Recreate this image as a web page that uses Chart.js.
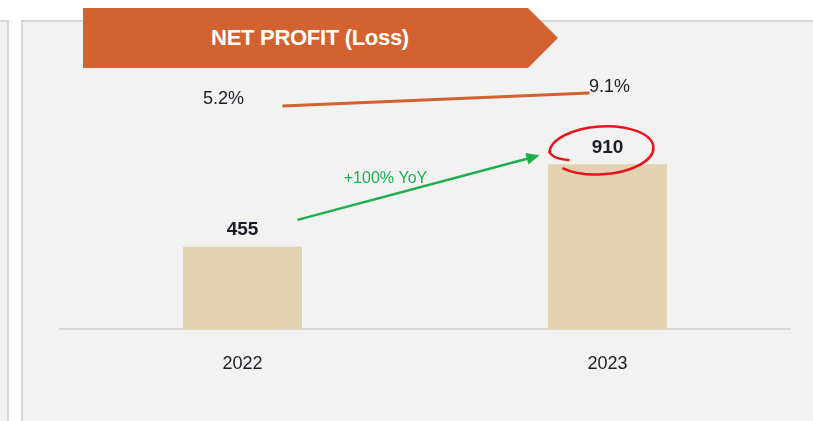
<!DOCTYPE html>
<html>
<head>
<meta charset="utf-8">
<script src="https://cdn.jsdelivr.net/npm/chart.js@4.4.1/dist/chart.umd.min.js"></script>
<style>
  html, body { margin: 0; padding: 0; background: #fff; }
  body { width: 813px; height: 421px; overflow: hidden; position: relative; font-family: "Liberation Sans", Arial, sans-serif; }
  .side { position: absolute; left: -12px; top: 20px; width: 17px; height: 500px; background: #f2f2f2; border: 2px solid #d6d6d6; }
  .panel { position: absolute; left: 21px; top: 20px; width: 900px; height: 500px; background: #f2f2f2; border: 2px solid #d6d6d6; }
  .banner { position: absolute; left: 83px; top: 8px; width: 475px; height: 60px; background: #d2622f;
            clip-path: polygon(0 0, 445px 0, 475px 50%, 445px 100%, 0 100%); }
  .banner span { display: block; width: 454px; text-align: center; line-height: 60px; color: #fff; font-weight: bold; font-size: 22px; letter-spacing: -0.3px; }
  #chart { position: absolute; left: 0; top: 0; }
</style>
</head>
<body>
<div class="side"></div>
<div class="panel"></div>
<div class="banner"><span>NET PROFIT (Loss)</span></div>
<canvas id="chart" width="813" height="421"></canvas>
<script>
const years = ['2022', '2023'];
const netProfit = [455, 910];
const margin = [5.2, 9.1];
const growthLabel = '+100% YoY';

const textColor = '#1c1c24';
const orange = '#d2622f';
const green = '#1fae4c';

// labels, margin line, growth arrow and red circle
const annotations = {
    id: 'annotations',
    afterDatasetsDraw(chart) {
        const ctx = chart.ctx;
        const x = chart.scales.x;
        const y = chart.scales.y;
        const y2 = chart.scales.y2;
        const bars = chart.getDatasetMeta(0).data;
        const x0 = x.getPixelForValue(0);
        const x1 = x.getPixelForValue(1);

        ctx.save();
        ctx.textAlign = 'center';
        ctx.textBaseline = 'middle';

        // value labels above bars
        ctx.font = 'bold 19px "Liberation Sans", Arial, sans-serif';
        ctx.fillStyle = textColor;
        bars.forEach((bar, i) => {
            ctx.fillText(String(netProfit[i]), bar.x, bar.y - 17);
        });

        // net margin line
        const m0 = y2.getPixelForValue(margin[0]);
        const m1 = y2.getPixelForValue(margin[1]);
        ctx.strokeStyle = orange;
        ctx.lineWidth = 3;
        ctx.beginPath();
        ctx.moveTo(x0 + 40, m0);
        ctx.lineTo(x1 - 18, m1);
        ctx.stroke();
        ctx.font = '18px "Liberation Sans", Arial, sans-serif';
        ctx.fillStyle = textColor;
        ctx.fillText(margin[0].toFixed(1) + '%', x0 - 19, m0 - 7);
        ctx.fillText(margin[1].toFixed(1) + '%', x1 + 2, m1 - 6);

        // growth arrow
        const sx = x0 + 55, sy = y.getPixelForValue(netProfit[0]) - 27;
        const ex = x1 - 68, ey = y.getPixelForValue(netProfit[1]) - 9;
        const ang = Math.atan2(ey - sy, ex - sx);
        ctx.strokeStyle = green;
        ctx.fillStyle = green;
        ctx.lineWidth = 2.5;
        ctx.beginPath();
        ctx.moveTo(sx, sy);
        ctx.lineTo(ex - 10 * Math.cos(ang), ey - 10 * Math.sin(ang));
        ctx.stroke();
        ctx.beginPath();
        ctx.moveTo(ex, ey);
        ctx.lineTo(ex - 13 * Math.cos(ang) + 6 * Math.sin(ang), ey - 13 * Math.sin(ang) - 6 * Math.cos(ang));
        ctx.lineTo(ex - 13 * Math.cos(ang) - 6 * Math.sin(ang), ey - 13 * Math.sin(ang) + 6 * Math.cos(ang));
        ctx.closePath();
        ctx.fill();
        ctx.font = '16px "Liberation Sans", Arial, sans-serif';
        ctx.fillText(growthLabel, (sx + ex) / 2 - 33, (sy + ey) / 2 - 9);

        // hand drawn red circle round the 2023 value
        const cx = x1 - 6, cy = y.getPixelForValue(netProfit[1]) - 14;
        ctx.strokeStyle = '#e8141c';
        ctx.lineWidth = 2.5;
        ctx.beginPath();
        ctx.moveTo(cx - 32, cy + 10);
        ctx.quadraticCurveTo(cx - 52, cy + 8, cx - 52, cy);
        ctx.ellipse(cx, cy, 52, 24, -0.06, Math.PI, Math.PI * 2 + 2.45);
        ctx.stroke();

        ctx.restore();
    }
};

new Chart(document.getElementById('chart'), {
    type: 'bar',
    data: {
        labels: years,
        datasets: [{
            data: netProfit,
            backgroundColor: '#e2d2b2',
            borderWidth: 0,
            categoryPercentage: 1,
            barPercentage: 0.326
        }]
    },
    options: {
        responsive: false,
        animation: false,
        layout: { padding: { left: 60, right: 23, top: 80, bottom: 22 } },
        plugins: { legend: { display: false }, tooltip: { enabled: false } },
        scales: {
            x: {
                grid: { display: false, drawTicks: false, tickLength: 0 },
                border: { display: true, color: '#d8d8d8', width: 2 },
                ticks: { padding: 24, color: textColor, font: { family: '"Liberation Sans", Arial, sans-serif', size: 18 } }
            },
            y: { display: false, min: 0, max: 1375 },
            y2: { display: false, min: -61.7, max: 13.0 }
        }
    },
    plugins: [annotations]
});
</script>
</body>
</html>
